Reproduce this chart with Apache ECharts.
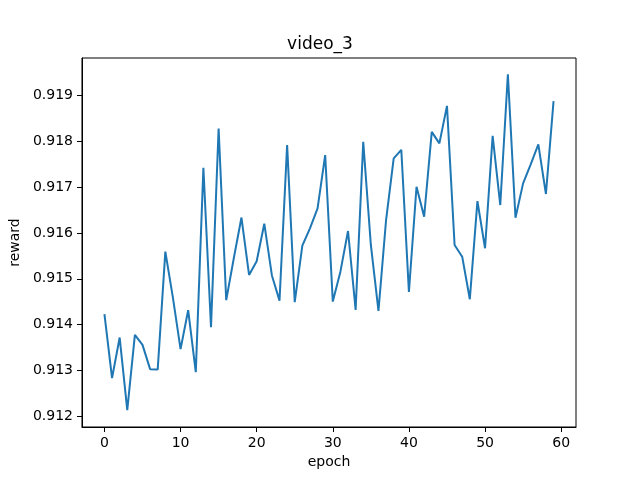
<!DOCTYPE html>
<html>
<head>
<meta charset="utf-8">
<script src="https://cdn.jsdelivr.net/npm/echarts@6/dist/echarts.min.js"></script>
<style>html,body{margin:0;padding:0;background:#fff;}#c{width:640px;height:480px;}</style>
</head>
<body>
<div id="c"></div>
<script>
const epochs = Array.from({length: 60}, (_, i) => i);
const reward = [
  0.914228, 0.912836, 0.913719, 0.912139, 0.913778, 0.913560, 0.913031, 0.913025, 0.915590, 0.914583,
  0.913466, 0.914315, 0.912966, 0.917418, 0.913945, 0.918275, 0.914533, 0.915453, 0.916334, 0.915083,
  0.915381, 0.916199, 0.915072, 0.914524, 0.917912, 0.914489, 0.915721, 0.916099, 0.916534, 0.917694,
  0.914502, 0.915155, 0.916040, 0.914322, 0.917983, 0.915736, 0.914300, 0.916280, 0.917622, 0.917809,
  0.914713, 0.917004, 0.916352, 0.918201, 0.917949, 0.918767, 0.915736, 0.915481, 0.914554, 0.916693,
  0.915664, 0.918114, 0.916606, 0.919457, 0.916330, 0.917078, 0.917492, 0.917927, 0.916846, 0.918869
];
const xTicks = [0, 10, 20, 30, 40, 50, 60];
const yTicks = [0.912, 0.913, 0.914, 0.915, 0.916, 0.917, 0.918, 0.919];
const titleText = 'video_3';
const xName = 'epoch';
const yName = 'reward';

const font = 'DejaVu Sans';
const chart = echarts.init(document.getElementById('c'), null, {renderer: 'canvas'});
chart.setOption({
  animation: false,
  backgroundColor: '#ffffff',
  title: {
    text: titleText, left: 'center', top: 31,
    textStyle: {fontFamily: font, fontSize: 17, fontWeight: 'normal', color: '#000'}
  },
  grid: {left: 80, right: 64, top: 58, bottom: 53, show: true, borderColor: '#000', borderWidth: 1, backgroundColor: 'transparent'},
  xAxis: {
    type: 'value', min: -2.95, max: 61.95,
    name: xName, nameLocation: 'middle', nameGap: 28,
    nameTextStyle: {fontFamily: font, fontSize: 14, color: '#000'},
    axisLine: {show: true, onZero: false, lineStyle: {color: '#000', width: 1}},
    axisTick: {show: true, length: 5, lineStyle: {color: '#000'}, customValues: xTicks},
    axisLabel: {fontFamily: font, fontSize: 14, color: '#000', margin: 9, customValues: xTicks},
    splitLine: {show: false}
  },
  yAxis: {
    type: 'value', min: 0.91177, max: 0.91981,
    name: yName, nameLocation: 'middle', nameGap: 51,
    nameTextStyle: {fontFamily: font, fontSize: 14, color: '#000'},
    axisLine: {show: true, onZero: false, lineStyle: {color: '#000', width: 1}},
    axisTick: {show: true, length: 5, lineStyle: {color: '#000'}, customValues: yTicks},
    axisLabel: {fontFamily: font, fontSize: 14, color: '#000', margin: 9, customValues: yTicks,
      formatter: v => v.toFixed(3)},
    splitLine: {show: false}
  },
  series: [{
    type: 'line',
    data: epochs.map((e, i) => [e, reward[i]]),
    showSymbol: false,
    lineStyle: {color: '#1f77b4', width: 2},
    itemStyle: {color: '#1f77b4'}
  }]
});
</script>
</body>
</html>
